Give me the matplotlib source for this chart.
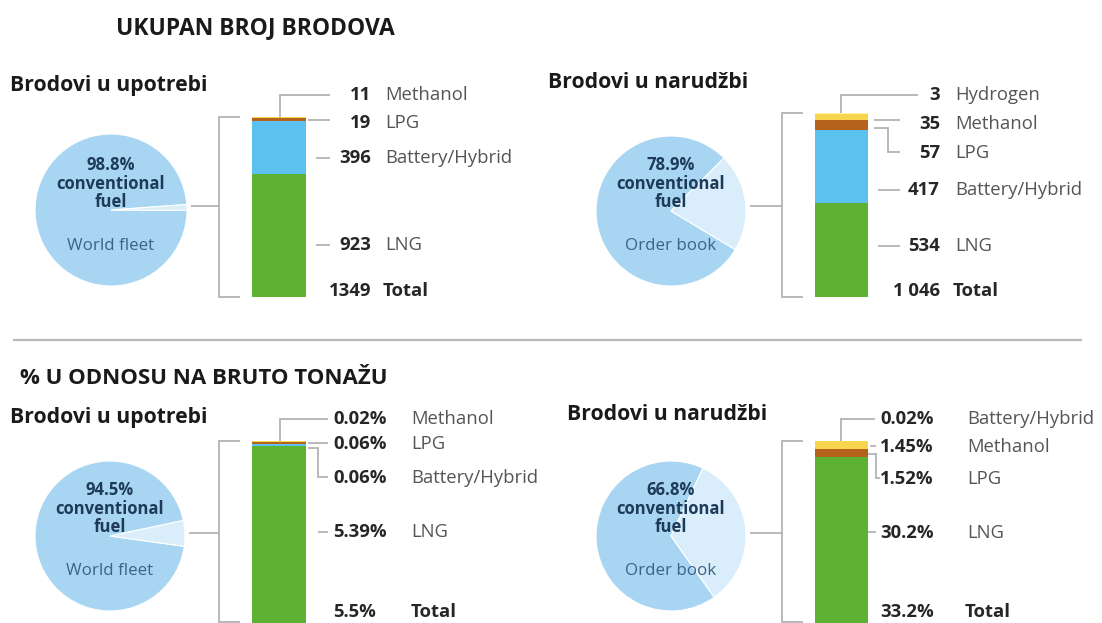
import matplotlib
matplotlib.use("Agg")
import matplotlib.pyplot as plt
import numpy as np

plt.rcParams['font.family'] = ['Open Sans', 'DejaVu Sans']

W, H = 1102, 623

# ---------------- data ----------------
section_titles = ["UKUPAN BROJ BRODOVA", "% U ODNOSU NA BRUTO TONAŽU"]
panel_titles = ["Brodovi u upotrebi", "Brodovi u narudžbi",
                "Brodovi u upotrebi", "Brodovi u narudžbi"]
pie_conventional = [98.8, 78.9, 94.5, 66.8]
pie_names = ["World fleet", "Order book", "World fleet", "Order book"]

# stacked bars: listed top -> bottom (as labelled)
tl_fuels = ["Methanol", "LPG", "Battery/Hybrid", "LNG"]
tl_values = [11, 19, 396, 923]
tr_fuels = ["Hydrogen", "Methanol", "LPG", "Battery/Hybrid", "LNG"]
tr_values = [3, 35, 57, 417, 534]
bl_fuels = ["Methanol", "LPG", "Battery/Hybrid", "LNG"]
bl_values = [0.02, 0.06, 0.06, 5.39]
br_fuels = ["Battery/Hybrid", "Methanol", "LPG", "LNG"]
br_values = [0.02, 1.45, 1.52, 30.2]
total_labels = ["1349", "1 046", "5.5%", "33.2%"]

fuel_colors = {"LNG": "#5db233", "Battery/Hybrid": "#5bc1ef",
               "LPG": "#b5621c", "Methanol": "#f7d54e", "Hydrogen": "#fff3a6"}
PIE_MAIN = "#a8d6f2"
PIE_ALT = "#d9eefa"
LINE = "#b3b3b3"
NUM_C = "#262626"
NAME_C = "#555555"
LBL = 13.3

fig = plt.figure(figsize=(W / 100, H / 100), dpi=100)
fig.patch.set_facecolor("white")


def px_axes(x0, y0, x1, y1):
    a = fig.add_axes([x0 / W, 1 - y1 / H, (x1 - x0) / W, (y1 - y0) / H])
    a.axis("off")
    return a


# ---------------- pies ----------------
pie_geo = [(111, 210, 76, 2), (671, 211, 75, 7), (110, 536, 75, 2), (671, 536, 75, 5)]
for (cx, cy, r, ctr), conv in zip(pie_geo, pie_conventional):
    pa = px_axes(cx - r, cy - r, cx + r, cy + r)
    alt = 100 - conv
    start = ctr - 360 + 180 * alt / 100
    pa.pie([conv, alt], colors=[PIE_MAIN, PIE_ALT], startangle=start,
           radius=1, wedgeprops=dict(linewidth=0.8, edgecolor="white"))
    pa.set_xlim(-1, 1)
    pa.set_ylim(-1, 1)
    pa.set_aspect("equal")
    pa.axis("off")

# ---------------- bars ----------------
bar_geo = [(252, 117, 306, 297), (815, 113, 868, 297),
           (252, 441, 306, 623), (815, 441, 868, 623)]
bar_data = [(tl_fuels, tl_values), (tr_fuels, tr_values),
            (bl_fuels, bl_values), (br_fuels, br_values)]
for (x0, y0, x1, y1), (fuels, vals) in zip(bar_geo, bar_data):
    ba = px_axes(x0, y0, x1, y1)
    f_up = fuels[::-1]
    v_up = vals[::-1]
    bottoms = np.concatenate([[0], np.cumsum(v_up)[:-1]])
    ba.bar([0] * len(v_up), v_up, bottom=bottoms, width=1.0,
           color=[fuel_colors[f] for f in f_up], linewidth=0)
    ba.set_xlim(-0.5, 0.5)
    ba.set_ylim(0, sum(v_up))
    ba.axis("off")

# ---------------- overlay (text + lines) ----------------
ax = fig.add_axes([0, 0, 1, 1])
ax.set_xlim(0, W)
ax.set_ylim(H, 0)
ax.axis("off")

ax.text(116, 28, section_titles[0], fontsize=16.5, fontweight="bold",
        color="#1a1a1a", va="center", ha="left")
ax.text(20, 379, section_titles[1], fontsize=16, fontweight="bold",
        color="#1a1a1a", va="center", ha="left")
ax.plot([13, 1082], [340, 340], color="#b8b8b8", lw=1.6, solid_capstyle="butt")

title_pos = [(10, 85), (548, 83), (10, 418), (567, 415)]
for (x, y), t in zip(title_pos, panel_titles):
    ax.text(x, y, t, fontsize=15.2, fontweight="bold", color="#1a1a1a",
            va="center", ha="left")

# pie texts
for (cx, cy, r, ctr), conv, nm in zip(pie_geo, pie_conventional, pie_names):
    ty = 212 if cy < 300 else 537
    ax.text(cx, ty - 47, f"{conv}%", fontsize=12, fontweight="bold",
            color="#1e3a5a", ha="center", va="center")
    ax.text(cx, ty - 28, "conventional", fontsize=12, fontweight="bold",
            color="#1e3a5a", ha="center", va="center")
    ax.text(cx, ty - 10, "fuel", fontsize=12, fontweight="bold",
            color="#1e3a5a", ha="center", va="center")
    ax.text(cx, ty + 34, nm, fontsize=12.2, color="#3d6286",
            ha="center", va="center")


def line(xs, ys):
    ax.plot(xs, ys, color=LINE, lw=1.3, solid_capstyle="butt",
            solid_joinstyle="miter")


# brackets + connectors
for (cx, cy, r, ctr), (x0, y0, x1, y1), bx in zip(pie_geo, bar_geo, [219, 782, 219, 782]):
    cyl = 206 if cy < 300 else 533
    line([cx + r + 4, bx], [cyl, cyl])
    line([bx + 21, bx, bx, bx + 21], [y0, y0, min(y1, 622), min(y1, 622)])

# ---- labels: top-left ----
num_r = 371
name_l = 385
tl_y = [95, 123, 158, 245]
for f, v, y in zip(tl_fuels, tl_values, tl_y):
    ax.text(num_r, y, str(v), fontsize=LBL, fontweight="bold", color=NUM_C,
            ha="right", va="center")
    ax.text(name_l, y, f, fontsize=LBL, color=NAME_C, ha="left", va="center")
ax.text(num_r, 291, total_labels[0], fontsize=LBL, fontweight="bold",
        color=NUM_C, ha="right", va="center")
ax.text(name_l - 2, 291, "Total", fontsize=LBL, fontweight="bold",
        color=NUM_C, ha="left", va="center")
line([280, 280, 330], [117, 95, 95])
line([308, 330], [120, 120])
line([316, 330], [158, 158])
line([316, 330], [245, 245])

# ---- labels: top-right ----
num_r = 940
name_l = 955
tr_y = [95, 124, 153, 190, 246]
for f, v, y in zip(tr_fuels, tr_values, tr_y):
    ax.text(num_r, y, str(v), fontsize=LBL, fontweight="bold", color=NUM_C,
            ha="right", va="center")
    ax.text(name_l, y, f, fontsize=LBL, color=NAME_C, ha="left", va="center")
ax.text(num_r, 291, total_labels[1], fontsize=LBL, fontweight="bold",
        color=NUM_C, ha="right", va="center")
ax.text(name_l - 2, 291, "Total", fontsize=LBL, fontweight="bold",
        color=NUM_C, ha="left", va="center")
line([841, 841, 918], [113, 95, 95])
line([874, 900], [120, 120])
line([874, 888, 888, 900], [128, 128, 152, 152])
line([878, 900], [190, 190])
line([878, 900], [246, 246])

# ---- labels: bottom-left ----
num_l = 333
name_l = 411
bl_y = [419, 444, 478, 532]
for f, v, y in zip(bl_fuels, bl_values, bl_y):
    ax.text(num_l, y, f"{v}%", fontsize=LBL, fontweight="bold", color=NUM_C,
            ha="left", va="center")
    ax.text(name_l, y, f, fontsize=LBL, color=NAME_C, ha="left", va="center")
ax.text(num_l, 612, total_labels[2], fontsize=LBL, fontweight="bold",
        color=NUM_C, ha="left", va="center")
ax.text(name_l, 612, "Total", fontsize=LBL, fontweight="bold",
        color=NUM_C, ha="left", va="center")
line([280, 280, 328], [441, 419, 419])
line([308, 328], [443, 443])
line([308, 318, 318, 328], [448, 448, 477, 477])
line([318, 328], [532, 532])

# ---- labels: bottom-right ----
num_l = 880
name_l = 967
br_y = [419, 447, 479, 533]
for f, v, y in zip(br_fuels, br_values, br_y):
    ax.text(num_l, y, f"{v}%", fontsize=LBL, fontweight="bold", color=NUM_C,
            ha="left", va="center")
    ax.text(name_l, y, f, fontsize=LBL, color=NAME_C, ha="left", va="center")
ax.text(num_l, 612, total_labels[3], fontsize=LBL, fontweight="bold",
        color=NUM_C, ha="left", va="center")
ax.text(name_l - 2, 612, "Total", fontsize=LBL, fontweight="bold",
        color=NUM_C, ha="left", va="center")
line([841, 841, 875], [441, 419, 419])
line([870, 876], [446, 446])
line([868, 876, 876, 880], [454, 454, 478, 478])
line([868, 876], [532, 532])

fig.savefig("out.png", dpi=100, facecolor="white")
